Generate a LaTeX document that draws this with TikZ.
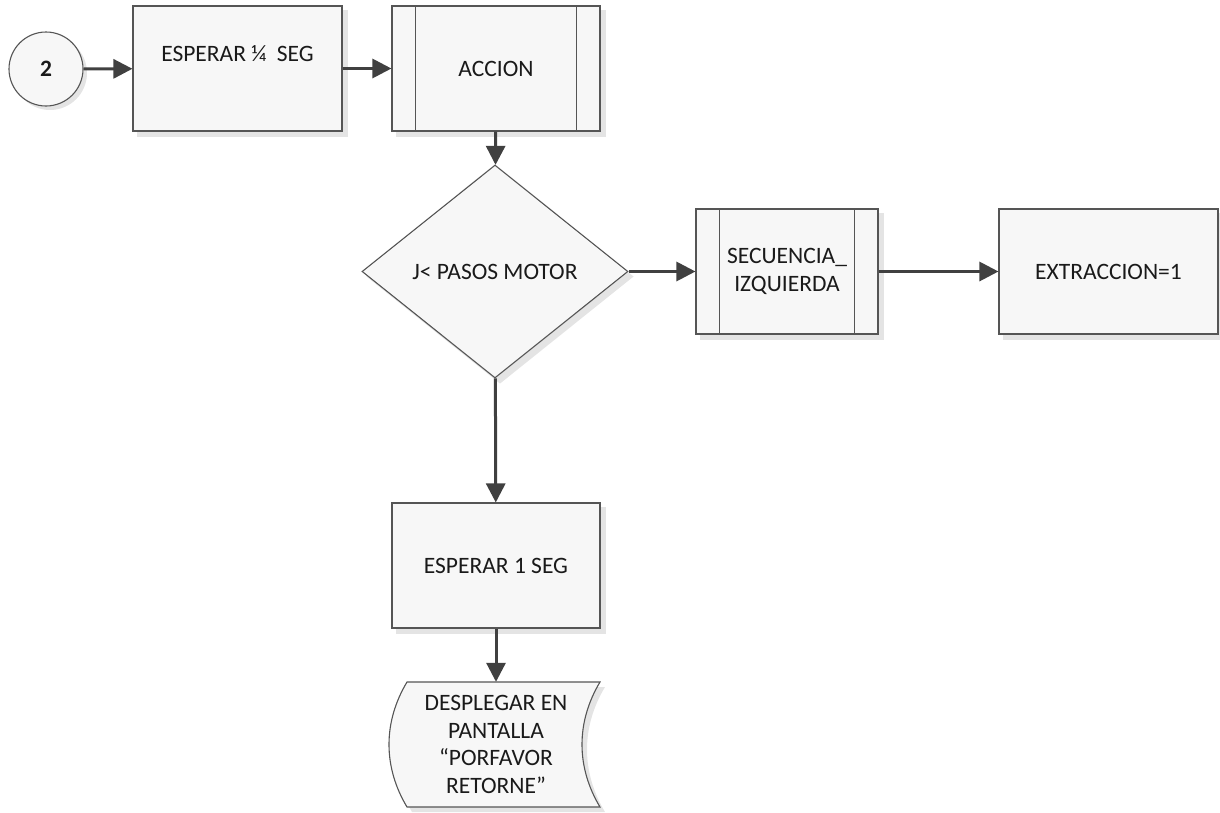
\documentclass[tikz,border=0pt]{standalone}
\usepackage{fontspec}
\setmainfont{Carlito}
\usetikzlibrary{arrows.meta,shapes.geometric,calc}

\definecolor{linegray}{HTML}{404040}
\definecolor{edgegray}{HTML}{555555}
\definecolor{boxfill}{HTML}{F7F7F7}
\definecolor{shadowgray}{HTML}{E4E4E4}
\definecolor{textcol}{HTML}{1A1A1A}

\pgfdeclarelayer{background}
\pgfsetlayers{background,main}

\tikzset{
  flowshape/.style={draw=edgegray, line width=1.1pt, fill=boxfill,
    font=\fontsize{23.5}{28}\selectfont, text=textcol, align=center, inner sep=0pt},
  procbox/.style={flowshape, rectangle, minimum width=#1, minimum height=125pt},
  procbox/.default=208pt,
  connector/.style={flowshape, circle, minimum size=74pt},
  decision/.style={flowshape, diamond, minimum width=266pt, minimum height=213pt, aspect=1.25},
  flow/.style={draw=linegray, line width=3pt, -{Triangle[length=19pt,width=19pt]}},
  subline/.style={draw=edgegray, line width=1.1pt},
  shadowfill/.style={fill=shadowgray},
}

\begin{document}
\begin{tikzpicture}[x=1pt, y=-1pt]
  \useasboundingbox (0,0) rectangle (1220,812);

  % connector and process steps
  \node[connector, font=\fontsize{23.5}{28}\selectfont\bfseries] (c2) at (46,69) {2};
  \node[procbox=209pt, text height=16pt, text depth=31pt] (w1) at (237.5,68.5) {ESPERAR ¼\ \ SEG};
  \node[procbox] (acc) at (496,68.5) {ACCION};
  \node[decision] (dec) at (495,271.5) {J< PASOS MOTOR};
  \node[procbox=182pt] (seq) at (787,271.5) {SECUENCIA\_\\IZQUIERDA};
  \node[procbox=219pt] (ext) at (1108.5,271.5) {EXTRACCION=1};
  \node[procbox] (w2) at (496,565.5) {ESPERAR 1 SEG};

  % predefined-process side bars
  \draw[subline] ($(acc.north west)+(24,0)$) -- ($(acc.south west)+(24,0)$);
  \draw[subline] ($(acc.north east)+(-24,0)$) -- ($(acc.south east)+(-24,0)$);
  \draw[subline] ($(seq.north west)+(24,0)$) -- ($(seq.south west)+(24,0)$);
  \draw[subline] ($(seq.north east)+(-24,0)$) -- ($(seq.south east)+(-24,0)$);

  % display output shape
  \node[rectangle, minimum width=208pt, minimum height=125pt, inner sep=0pt] (disp) at (496,744.5) {};
  \path[draw=edgegray, line width=1.1pt, fill=boxfill]
    (407,682) -- (600,682) .. controls (576,722) and (576,767) .. (600,807)
    -- (407,807) .. controls (383,767) and (383,722) .. (407,682) -- cycle;
  \node[font=\fontsize{23.5}{27.4}\selectfont, text=textcol, align=center] (disptext) at (disp.center)
    {DESPLEGAR EN\\PANTALLA\\“PORFAVOR\\RETORNE”};

  % drop shadows behind the shapes
  \begin{pgfonlayer}{background}
    \fill[shadowfill] ($(c2.center)+(4,4)$) circle[radius=37];
    \foreach \n in {w1,acc,seq,ext,w2}
      \fill[shadowfill] ($(\n.north west)+(5,5)$) rectangle ($(\n.south east)+(5,5)$);
    \fill[shadowfill] ($(dec.north)+(5,5)$) -- ($(dec.east)+(5,5)$) -- ($(dec.south)+(5,5)$)
      -- ($(dec.west)+(5,5)$) -- cycle;
    \fill[shadowfill, shift={(5,5)}]
      (407,682) -- (600,682) .. controls (576,722) and (576,767) .. (600,807)
      -- (407,807) .. controls (383,767) and (383,722) .. (407,682) -- cycle;
  \end{pgfonlayer}

  % flow connectors
  \draw[flow] (c2) -- (w1);
  \draw[flow] (w1) -- (acc);
  \draw[flow] (acc) -- (dec);
  \draw[flow] (dec) -- (seq);
  \draw[flow] (seq) -- (ext);
  \draw[flow] (dec) -- (w2);
  \draw[flow] (w2) -- (disp);
\end{tikzpicture}
\end{document}
